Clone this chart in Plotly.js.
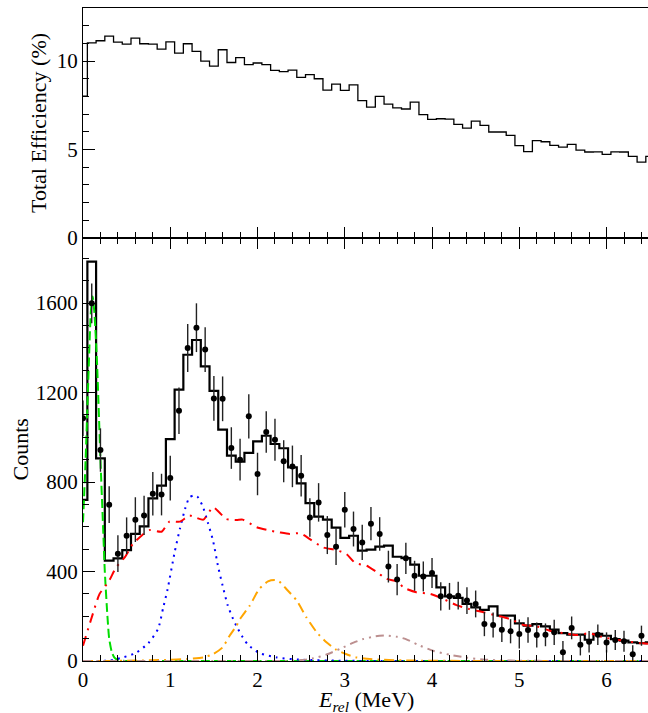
<!DOCTYPE html>
<html>
<head>
<meta charset="utf-8">
<script src="https://cdn.plot.ly/plotly-3.0.1.min.js"></script>
<style>html,body{margin:0;padding:0;background:#fff;}#chart{width:648px;height:713px;}</style>
</head>
<body>
<div id="chart"></div>
<script>
// Bin centres (MeV), 0.1 MeV bins
var binCentres = [0.0, 0.1, 0.2, 0.3, 0.4, 0.5, 0.6, 0.7, 0.8, 0.9,
  1.0, 1.1, 1.2, 1.3, 1.4, 1.5, 1.6, 1.7, 1.8, 1.9,
  2.0, 2.1, 2.2, 2.3, 2.4, 2.5, 2.6, 2.7, 2.8, 2.9,
  3.0, 3.1, 3.2, 3.3, 3.4, 3.5, 3.6, 3.7, 3.8, 3.9,
  4.0, 4.1, 4.2, 4.3, 4.4, 4.5, 4.6, 4.7, 4.8, 4.9,
  5.0, 5.1, 5.2, 5.3, 5.4, 5.5, 5.6, 5.7, 5.8, 5.9,
  6.0, 6.1, 6.2, 6.3, 6.4, 6.5];

// Top panel: total efficiency (%)
var efficiency = [8.02, 11.03, 11.15, 11.41, 11.07, 10.96, 11.3, 10.98, 10.96, 10.68,
  11.09, 10.45, 10.98, 10.55, 10.0, 9.72, 10.64, 9.92, 10.19, 9.8,
  9.89, 9.8, 9.47, 9.4, 9.49, 9.08, 9.23, 9.0, 8.36, 8.7,
  8.34, 8.66, 7.76, 7.4, 8.0, 7.57, 7.36, 7.29, 7.68, 6.97,
  6.7, 6.74, 6.72, 6.42, 6.21, 6.61, 6.37, 5.99, 5.99, 5.8,
  5.22, 4.88, 5.5, 5.44, 5.24, 5.14, 5.29, 4.97, 4.86, 4.87,
  4.73, 4.87, 4.86, 4.61, 4.29, 4.61];

// Bottom panel: total fit histogram (counts)
var fitTotal = [720, 1785, 906, 449, 459, 496, 568, 602, 727, 784,
  992, 1213, 1369, 1435, 1317, 1208, 1034, 918, 891, 930,
  982, 1007, 970, 951, 866, 794, 706, 645, 632, 596,
  550, 560, 493, 498, 511, 516, 466, 460, 431, 381,
  381, 329, 289, 282, 255, 240, 229, 244, 203, 203,
  168, 158, 165, 155, 140, 125, 118, 118, 95, 121,
  113, 98, 91, 83, 80, 83];

// Data points (counts) and their errors
var dataCounts = [1085, 1599, 943, 699, 480, 560, 632, 651, 748, 744,
  818, 1119, 1399, 1490, 1392, 1174, 1172, 952, 900, 1094,
  836, 1024, 989, 893, 870, 828, 642, 709, 563, 511,
  676, 590, 530, 614, 568, 422, 364, 459, 381, 378,
  393, 289, 289, 292, 270, 255, 165, 161, 140, 133,
  121, 139, 116, 117, 128, 39, 148, 73, 86, 117,
  83, 94, 88, 30, 113];
var dataErrors = [80, 89, 97, 82, 82, 82, 100, 88, 97, 93,
  100, 104, 107, 109, 100, 100, 100, 93, 93, 99,
  95, 93, 94, 94, 93, 93, 86, 86, 85, 82,
  79, 78, 79, 74, 75, 71, 70, 70, 67, 67,
  67, 63, 60, 62, 60, 60, 54, 56, 55, 54,
  65, 57, 56, 51, 56, 50, 51, 48, 48, 46,
  45, 45, 47, 40, 45];

// Fit components
var greenX = [0.0, 0.03, 0.06, 0.09, 0.11, 0.13, 0.16, 0.2, 0.23, 0.25, 0.28, 0.3, 0.33, 0.36, 0.4, 0.5, 1.0, 2.0, 3.0, 4.0, 5.0, 6.0, 6.5];
var greenY = [620, 900, 1250, 1560, 1630, 1560, 1340, 900, 600, 400, 200, 100, 40, 15, 5, 0, 0, 0, 0, 0, 0, 0, 0];

var blueX = [0.0, 0.3, 0.45, 0.6, 0.75, 0.86, 0.92, 0.97, 1.05, 1.11, 1.17, 1.22, 1.27, 1.31, 1.37, 1.43, 1.49, 1.55, 1.6, 1.66, 1.72, 1.76, 1.83, 1.89, 2.02, 2.22, 2.48, 3.0, 3.5, 4.5, 5.5, 6.5];
var blueY = [0, 2, 15, 35, 80, 143, 240, 322, 486, 590, 680, 732, 740, 735, 694, 620, 538, 419, 337, 247, 188, 155, 106, 73, 36, 16, 6, 1, 0, 0, 0, 0];

var orangeX = [0.0, 0.3, 0.6, 0.95, 1.2, 1.38, 1.49, 1.6, 1.68, 1.76, 1.8, 1.91, 2.02, 2.12, 2.2, 2.25, 2.33, 2.45, 2.56, 2.68, 2.79, 2.9, 3.02, 3.13, 3.4, 3.8, 4.5, 5.5, 6.5];
var orangeY = [0, 0, 2, 5, 9, 16, 31, 61, 113, 158, 188, 247, 322, 356, 362, 355, 322, 270, 195, 128, 84, 51, 30, 16, 6, 2, 0, 0, 0];

var brownX = [0.0, 1.5, 2.3, 2.5, 2.64, 2.8, 2.96, 3.1, 3.21, 3.35, 3.48, 3.6, 3.7, 3.84, 4.02, 4.2, 4.4, 4.6, 4.9, 5.5, 6.5];
var brownY = [0, 0, 0, 4, 12, 30, 57, 82, 98, 110, 114, 108, 98, 72, 45, 28, 15, 6, 2, 0, 0];

var redX = [0.0, 0.1, 0.19, 0.29, 0.38, 0.48, 0.57, 0.67, 0.76, 0.9, 0.99, 1.11, 1.22, 1.3, 1.38, 1.49, 1.56, 1.64, 1.76, 1.83, 1.99, 2.14, 2.25, 2.37, 2.49, 2.6, 2.75, 2.9, 3.02, 3.12, 3.25, 3.36, 3.48, 3.61, 3.67, 3.82, 3.98, 4.13, 4.28, 4.43, 4.59, 4.74, 4.89, 5.05, 5.2, 5.35, 5.5, 5.66, 5.81, 5.96, 6.12, 6.27, 6.42, 6.5];
var redY = [68, 195, 300, 352, 419, 464, 523, 560, 585, 578, 623, 623, 650, 640, 632, 687, 665, 635, 630, 632, 598, 583, 575, 568, 571, 545, 508, 496, 478, 438, 426, 399, 367, 355, 329, 307, 300, 277, 250, 232, 218, 203, 188, 161, 155, 135, 125, 116, 124, 106, 95, 86, 79, 77];

var xTickVals = [0, 1, 2, 3, 4, 5, 6];
var xTickText = ['0', '1', '2', '3', '4', '5', '6'];

var serif = '"Liberation Serif", "Times New Roman", serif';
var dataX = binCentres.slice(0, dataCounts.length);

var traces = [
  { x: binCentres, y: efficiency, xaxis: 'x2', yaxis: 'y2', type: 'scatter', mode: 'lines',
    line: { shape: 'hvh', color: '#000', width: 1.3 }, hoverinfo: 'skip' },
  { x: binCentres, y: fitTotal, xaxis: 'x', yaxis: 'y', type: 'scatter', mode: 'lines',
    line: { shape: 'hvh', color: '#000', width: 2.2 }, hoverinfo: 'skip' },
  { x: greenX, y: greenY, type: 'scatter', mode: 'lines',
    line: { color: '#00dd00', width: 2, dash: '9px,4px', shape: 'spline', smoothing: 0.6 } },
  { x: blueX, y: blueY, type: 'scatter', mode: 'lines',
    line: { color: '#0000ff', width: 2, dash: '2px,5px', shape: 'spline', smoothing: 0.6 } },
  { x: orangeX, y: orangeY, type: 'scatter', mode: 'lines',
    line: { color: '#ffa500', width: 2, dash: '10px,5px,2px,5px', shape: 'spline', smoothing: 0.6 } },
  { x: brownX, y: brownY, type: 'scatter', mode: 'lines',
    line: { color: '#bc8f8f', width: 2, dash: '8px,5px,2px,5px,2px,5px', shape: 'spline', smoothing: 0.6 } },
  { x: redX, y: redY, type: 'scatter', mode: 'lines',
    line: { color: '#ff0000', width: 2, dash: '10px,6px,2px,6px', shape: 'spline', smoothing: 0.6 } },
  { x: dataX, y: dataCounts, type: 'scatter', mode: 'markers',
    marker: { color: '#000', size: 6 },
    error_y: { type: 'data', array: dataErrors, visible: true, color: '#222', thickness: 1.4, width: 0 } }
];

var axisCommon = {
  showgrid: false, zeroline: false, showline: true, linecolor: '#000', linewidth: 1,
  ticks: 'inside', tickcolor: '#000', tickwidth: 1,
  tickfont: { family: serif, size: 21, color: '#000' }
};

var layout = {
  width: 648, height: 713,
  margin: { l: 83, r: 0, t: 8, b: 52 },
  paper_bgcolor: '#fff', plot_bgcolor: '#fff',
  showlegend: false,
  xaxis: Object.assign({}, axisCommon, {
    domain: [0, 1], anchor: 'y', range: [0, 6.475],
    tickvals: xTickVals, ticktext: xTickText, ticklen: 11, mirror: 'ticks',
    minor: { dtick: 0.2, ticklen: 6, ticks: 'inside', tickcolor: '#000', showgrid: false }
  }),
  xaxis2: Object.assign({}, axisCommon, {
    domain: [0, 1], anchor: 'y2', matches: 'x', range: [0, 6.475],
    tickvals: xTickVals, showticklabels: false, ticklen: 11, mirror: true,
    minor: { dtick: 0.2, ticklen: 6, ticks: 'inside', tickcolor: '#000', showgrid: false }
  }),
  yaxis: Object.assign({}, axisCommon, {
    domain: [0, 0.6478], anchor: 'x', range: [0, 1891], dtick: 400, ticklen: 12,
    minor: { dtick: 100, ticklen: 6, ticks: 'inside', tickcolor: '#000', showgrid: false }
  }),
  yaxis2: Object.assign({}, axisCommon, {
    domain: [0.6478, 1], anchor: 'x2', range: [0, 13], dtick: 5, ticklen: 12,
    minor: { dtick: 1, ticklen: 6, ticks: 'inside', tickcolor: '#000', showgrid: false }
  }),
  annotations: [
    { text: '<i>E</i><sub><i>rel</i></sub> (MeV)', xref: 'paper', yref: 'paper', x: 0.5, y: 0,
      xanchor: 'center', yanchor: 'top', yshift: -24, showarrow: false,
      font: { family: serif, size: 22, color: '#000' } },
    { text: 'Counts', xref: 'paper', yref: 'paper', x: 0, y: 0.3239, textangle: -90,
      xanchor: 'center', yanchor: 'middle', xshift: -63, showarrow: false,
      font: { family: serif, size: 22, color: '#000' } },
    { text: 'Total Efficiency (%)', xref: 'paper', yref: 'paper', x: 0, y: 0.8239, textangle: -90,
      xanchor: 'center', yanchor: 'middle', xshift: -44, showarrow: false,
      font: { family: serif, size: 22, color: '#000' } }
  ]
};

Plotly.newPlot('chart', traces, layout, { displayModeBar: false, staticPlot: true });
</script>
</body>
</html>
